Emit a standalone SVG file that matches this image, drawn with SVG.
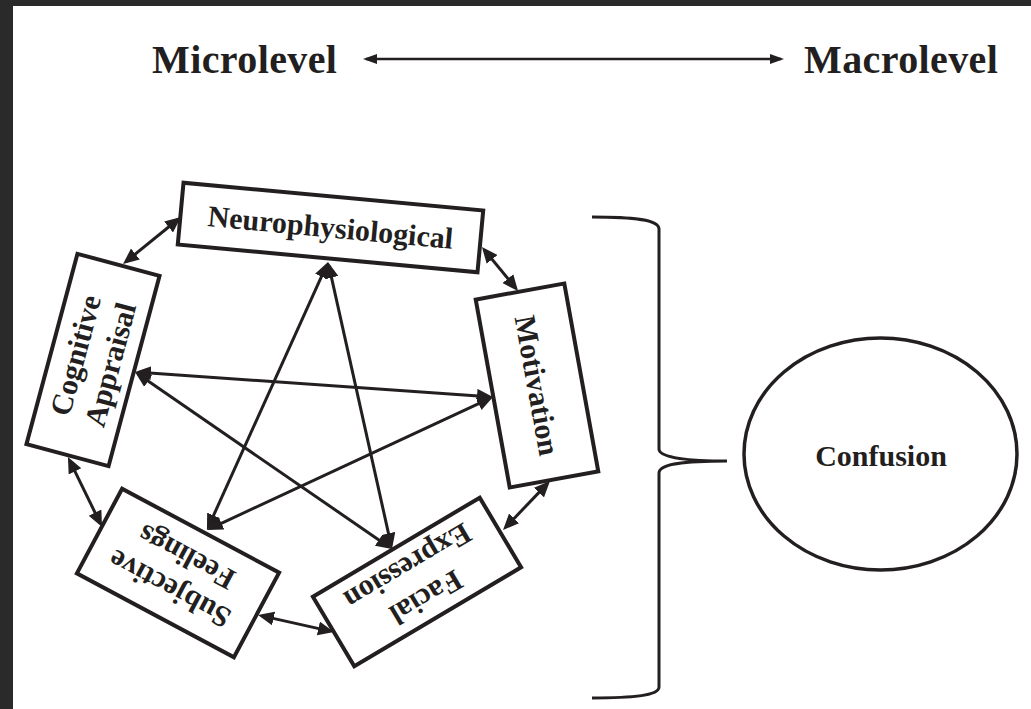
<svg xmlns="http://www.w3.org/2000/svg" width="1031" height="709" viewBox="0 0 1031 709">
  <style>
    .box { fill: #ffffff; stroke: #231f20; stroke-width: 4; stroke-linejoin: miter; }
    .lbl { font-family: "Liberation Serif", "Times New Roman", serif; font-weight: bold; font-size: 30px; fill: #231f20; text-anchor: middle; }
    .head { font-family: "Liberation Serif", "Times New Roman", serif; font-weight: bold; font-size: 40px; fill: #231f20; letter-spacing: 0.4px; }
    .link { stroke: #231f20; stroke-width: 3; fill: none; marker-start: url(#tip); marker-end: url(#tip); }
  </style>
  <defs>
    <marker id="tip" markerUnits="userSpaceOnUse" markerWidth="18" markerHeight="16" refX="12" refY="7" orient="auto-start-reverse">
      <path d="M0,0 L16,7 L0,14 z" fill="#231f20"/>
    </marker>
    <marker id="tipThin" markerUnits="userSpaceOnUse" markerWidth="16" markerHeight="12" refX="11" refY="5" orient="auto-start-reverse">
      <path d="M0,0 L14,5 L0,10 z" fill="#231f20"/>
    </marker>
  </defs>

  <rect width="1031" height="709" fill="#ffffff"/>
  <!-- dark frame strips -->
  <rect x="0" y="0" width="1031" height="6" fill="#2b2a2b"/>
  <rect x="0" y="0" width="13" height="709" fill="#2b2a2b"/>

  <!-- scale heading -->
  <g id="scale">
    <text class="head" x="152" y="73">Microlevel</text>
    <text class="head" x="804" y="73">Macrolevel</text>
    <line x1="366" y1="59" x2="781" y2="59" stroke="#231f20" stroke-width="2.5" marker-start="url(#tipThin)" marker-end="url(#tipThin)"/>
  </g>

  <!-- connectors -->
  <g id="connectors">
    <line class="link" x1="126.1" y1="261.5" x2="177.9" y2="219.5"/>
    <line class="link" x1="484.5" y1="250.1" x2="515.5" y2="287.9"/>
    <line class="link" x1="505.8" y1="527.1" x2="547.2" y2="483.9"/>
    <line class="link" x1="261.9" y1="615.9" x2="330.1" y2="631.1"/>
    <line class="link" x1="69.7" y1="460.6" x2="100.3" y2="523.4"/>
    <line class="link" x1="326.4" y1="265.6" x2="208.6" y2="526.4"/>
    <line class="link" x1="328.9" y1="265.9" x2="391.1" y2="545.1"/>
    <line class="link" x1="139" y1="372.3" x2="489" y2="396.7"/>
    <line class="link" x1="138.3" y1="374.3" x2="388.7" y2="546.7"/>
    <line class="link" x1="489.4" y1="398.7" x2="210.6" y2="528.3"/>
  </g>

  <g id="neurophysiological" transform="translate(330.5,227.5) rotate(5.3)">
    <rect class="box" x="-150.5" y="-31" width="301" height="62"/>
    <text class="lbl" x="0" y="10">Neurophysiological</text>
  </g>

  <g id="motivation" transform="translate(537,385.5) rotate(79.75)">
    <rect class="box" x="-95.5" y="-45" width="191" height="90"/>
    <text class="lbl" x="0" y="10">Motivation</text>
  </g>

  <g id="cognitive-appraisal" transform="translate(93,360) rotate(-75)">
    <rect class="box" x="-98.5" y="-42.5" width="197" height="85"/>
    <text class="lbl" x="0" y="-8">Cognitive</text>
    <text class="lbl" x="0" y="28">Appraisal</text>
  </g>

  <g id="subjective-feelings" transform="translate(178,573) rotate(208.1)">
    <rect class="box" x="-89" y="-48" width="178" height="96"/>
    <text class="lbl" x="0" y="-8">Subjective</text>
    <text class="lbl" x="0" y="28">Feelings</text>
  </g>

  <g id="facial-expression" transform="translate(417,582) rotate(149.3)">
    <rect class="box" x="-97" y="-40.5" width="194" height="81"/>
    <text class="lbl" x="0" y="-8">Facial</text>
    <text class="lbl" x="0" y="28">Expression</text>
  </g>

  <!-- grouping brace -->
  <g id="brace">
    <path d="M592,217 C630,217 659,219 659,229 L659,449 C659,458 690,461 727,461 C690,461 659,463 659,473 L659,687 C659,696 630,698 592,698" fill="none" stroke="#231f20" stroke-width="3"/>
  </g>

  <g id="confusion">
    <ellipse cx="880.5" cy="454" rx="136.5" ry="116" fill="#ffffff" stroke="#231f20" stroke-width="3.5"/>
    <text class="lbl" x="881" y="466">Confusion</text>
  </g>
</svg>
